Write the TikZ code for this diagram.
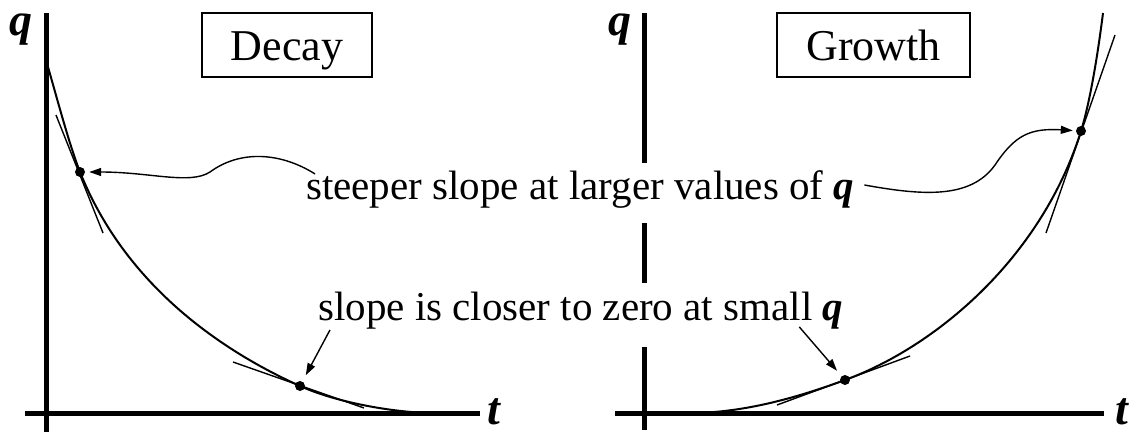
\documentclass[tikz,border=0pt]{standalone}
\usepackage{fontspec}
\setmainfont{Liberation Serif}
\usetikzlibrary{arrows.meta}
\begin{document}
\begin{tikzpicture}[x=1pt,y=-1pt,
  axisline/.style={line width=5pt},
  curveline/.style={line width=2pt},
  tangentline/.style={line width=1.4pt},
  pointer/.style={line width=1.4pt,-{Triangle[length=12pt,width=8pt]}},
  textlabel/.style={font=\fontsize{41}{41}\selectfont, inner sep=0pt, anchor=base west},
  titlebox/.style={draw,line width=2pt,font=\fontsize{44}{44}\selectfont, inner sep=0pt,
     text height=32pt, text depth=0pt, minimum height=64pt},
  varlabel/.style={font=\fontsize{46}{46}\selectfont\bfseries\itshape, inner sep=0pt},
  dotmark/.style={circle,fill,inner sep=0pt,minimum size=10pt}
]
\useasboundingbox (0,0) rectangle (1138,433);
% axes
\draw[axisline] (46,13) -- (46,432);
\draw[axisline] (25,413) -- (480,413);
\draw[axisline] (644,13) -- (644,163);
\draw[axisline] (644,223) -- (644,283);
\draw[axisline] (644,347) -- (644,430);
\draw[axisline] (615,413) -- (1104,413);
% axis labels
\node[varlabel] (qL) at (21,30) {q};
\node[varlabel] (qR) at (620,30) {q};
\node[varlabel] (tL) at (494,412) {t};
\node[varlabel] (tR) at (1122,412) {t};
% titles
\node[titlebox, minimum width=170pt] (decay) at (287,45) {Decay};
\node[titlebox, minimum width=193pt] (growth) at (873.5,45) {Growth};
% curves
\draw[curveline] (46,60) .. controls (57,98) and (69,144) .. (80,172)
   .. controls (125,284.5) and (220,350) .. (300,386)
   .. controls (340,404) and (400,413) .. (433,413);
\draw[curveline] (690,413) .. controls (745,413) and (800,396.6) .. (845,380)
   .. controls (935,347) and (1041,259) .. (1081,131)
   .. controls (1091,99) and (1099,45) .. (1103,13);
% tangents
\draw[tangentline] (56,115) -- (103,233);
\draw[tangentline] (233,362) -- (364,408);
\draw[tangentline] (1115,35) -- (1046,233);
\draw[tangentline] (777,405) -- (910,356);
% dots
\node[dotmark] (dA) at (80,172) {};
\node[dotmark] (dB) at (1081,131) {};
\node[dotmark] (dC) at (300,386) {};
\node[dotmark] (dD) at (845,380) {};
% texts
\node[textlabel] (steep) at (306,200) {steeper slope at larger values of \textbf{\textit{q}}};
\node[textlabel] (close) at (318,320) {slope is closer to zero at small \textbf{\textit{q}}};
% pointers
\draw[pointer, shorten >=4pt] ([shift={(9,3)}]steep.north west) .. controls (280,152) and (240,150) .. (210,172)
   .. controls (190,185) and (150,172) .. (dA);
\draw[pointer, shorten >=3pt] ([shift={(10,-5)}]steep.east) .. controls (920,195) and (970,200) .. (995,165)
   .. controls (1015,135) and (1030,128) .. (dB);
\draw[pointer, shorten >=7pt] ([shift={(12,1)}]close.south west) -- (dC);
\draw[pointer, shorten >=7pt] ([shift={(-44,-2)}]close.south east) -- (dD);
\end{tikzpicture}
\end{document}
